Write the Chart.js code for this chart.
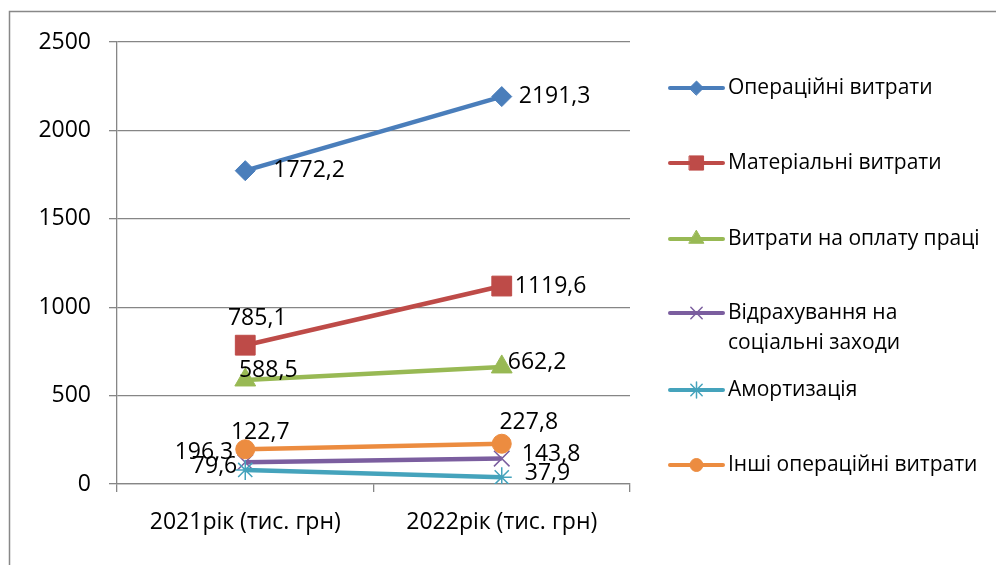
<!DOCTYPE html>
<html>
<head>
<meta charset="utf-8">
<script src="https://cdn.jsdelivr.net/npm/chart.js@4.4.1/dist/chart.umd.min.js"></script>
<style>
  html, body { margin: 0; padding: 0; background: #fff; }
  #wrap { width: 996px; height: 565px; }
</style>
</head>
<body>
<div id="wrap"><canvas id="c" width="996" height="565"></canvas></div>
<script>
// Categories, series and axis ticks
const categories = ['2021рік (тис. грн)', '2022рік (тис. грн)'];
const seriesNames = [
  'Операційні витрати',
  'Матеріальні витрати',
  'Витрати на оплату праці',
  'Відрахування на соціальні заходи',
  'Амортизація',
  'Інші операційні витрати'
];
const operatingCosts = [1772.2, 2191.3];
const materialCosts = [785.1, 1119.6];
const laborCosts = [588.5, 662.2];
const socialContributions = [122.7, 143.8];
const depreciation = [79.6, 37.9];
const otherCosts = [196.3, 227.8];
const yTicks = [0, 500, 1000, 1500, 2000, 2500];

const seriesValues = [operatingCosts, materialCosts, laborCosts, socialContributions, depreciation, otherCosts];

const FONT = '"Open Sans", "Noto Sans", "DejaVu Sans", sans-serif';
const AXIS_GRAY = '#868686';

// Line and marker appearance per series
const seriesStyles = [
  { color: '#4A7EBB', point: 'rectRot',  r: 10,  pbw: 1,   legendR: 7 },
  { color: '#BE4B48', point: 'rect',     r: 14,  pbw: 1,   legendR: 10 },
  { color: '#98B954', point: 'triangle', r: 12,  pbw: 1,   legendR: 8.5 },
  { color: '#7B5E9F', point: 'crossRot', r: 11,  pbw: 1.5, legendR: 8 },
  { color: '#45A3BC', point: 'star',     r: 10,  pbw: 1.5, legendR: 8 },
  { color: '#EC8C40', point: 'circle',   r: 9.5, pbw: 1,   legendR: 6.5 }
];

// Where each value label sits relative to its point
const labelPlacement = [
  [{ dx: 28, dy: 0, align: 'left' },    { dx: 17, dy: 0, align: 'left' }],
  [{ dx: 12, dy: -27, align: 'center' }, { dx: 13, dy: 0, align: 'left' }],
  [{ dx: 23, dy: -10, align: 'center' }, { dx: 6, dy: -4, align: 'left' }],
  [{ dx: 15, dy: -30, align: 'center' }, { dx: 20, dy: -4, align: 'left' }],
  [{ dx: -8, dy: -3, align: 'right' },  { dx: 23, dy: -4, align: 'left' }],
  [{ dx: -12, dy: 3, align: 'right' },  { dx: 27, dy: -21, align: 'center' }]
];

// Legend layout on the right
const legendLayout = {
  lineX0: 670, lineX1: 723, textX: 728, lineHeight: 30,
  rows: [88, 163, 239, 313, 390, 465],
  wrap: { 3: ['Відрахування на', 'соціальні заходи'] }
};

function fmt(v) { return v.toFixed(1).replace('.', ','); }

function drawMarker(ctx, style, radius, x, y) {
  ctx.save();
  ctx.fillStyle = style.color;
  ctx.strokeStyle = style.color;
  ctx.lineWidth = style.pbw;
  Chart.helpers.drawPoint(ctx, { pointStyle: style.point, radius: radius, borderWidth: style.pbw, rotation: 0 }, x, y);
  ctx.restore();
}

const decorations = {
  id: 'decorations',
  beforeDraw(chart) {
    const ctx = chart.ctx;
    ctx.save();
    ctx.fillStyle = '#fff';
    ctx.fillRect(0, 0, chart.width, chart.height);
    ctx.strokeStyle = '#888';
    ctx.lineWidth = 1.5;
    ctx.strokeRect(9.5, 11.5, chart.width + 20, chart.height + 20);
    ctx.restore();
  },
  afterDatasetsDraw(chart) {
    const ctx = chart.ctx;
    ctx.save();
    ctx.font = '23px ' + FONT;
    ctx.fillStyle = '#000';
    ctx.textBaseline = 'middle';
    chart.data.datasets.forEach((ds, i) => {
      const meta = chart.getDatasetMeta(i);
      meta.data.forEach((pt, j) => {
        const p = labelPlacement[i][j];
        ctx.textAlign = p.align;
        ctx.fillText(fmt(ds.data[j]), pt.x + p.dx, pt.y + p.dy);
      });
    });
    ctx.restore();
  },
  afterDraw(chart) {
    const ctx = chart.ctx;
    ctx.save();
    ctx.font = '21px ' + FONT;
    ctx.fillStyle = '#000';
    ctx.textBaseline = 'middle';
    ctx.textAlign = 'left';
    seriesNames.forEach((name, i) => {
      const st = seriesStyles[i];
      const y = legendLayout.rows[i];
      ctx.strokeStyle = st.color;
      ctx.lineWidth = 4;
      ctx.lineCap = 'round';
      ctx.beginPath();
      ctx.moveTo(legendLayout.lineX0, y);
      ctx.lineTo(legendLayout.lineX1, y);
      ctx.stroke();
      drawMarker(ctx, st, st.legendR, (legendLayout.lineX0 + legendLayout.lineX1) / 2, y);
      const lines = legendLayout.wrap[i] || [name];
      ctx.fillStyle = '#000';
      lines.forEach((ln, k) => ctx.fillText(ln, legendLayout.textX, y + k * legendLayout.lineHeight));
    });
    ctx.restore();
  }
};

new Chart(document.getElementById('c'), {
  type: 'line',
  data: {
    labels: categories,
    datasets: seriesValues.map((vals, i) => ({
      label: seriesNames[i],
      data: vals,
      borderColor: seriesStyles[i].color,
      backgroundColor: seriesStyles[i].color,
      borderWidth: 4.5,
      pointStyle: seriesStyles[i].point,
      pointRadius: seriesStyles[i].r,
      pointBorderWidth: seriesStyles[i].pbw,
      pointBackgroundColor: seriesStyles[i].color,
      pointBorderColor: seriesStyles[i].color,
      tension: 0,
      fill: false,
      order: seriesValues.length - i
    }))
  },
  options: {
    responsive: false,
    animation: false,
    events: [],
    layout: { padding: { left: 0, top: 42, right: 366, bottom: 0 } },
    plugins: { legend: { display: false }, tooltip: { enabled: false } },
    scales: {
      x: {
        offset: true,
        grid: { offset: true, drawOnChartArea: false, tickLength: 8, color: AXIS_GRAY, lineWidth: 1.3 },
        border: { color: AXIS_GRAY, width: 1.3 },
        ticks: { font: { family: FONT, size: 23 }, color: '#000', padding: 17, maxRotation: 0 },
        afterFit(s) { s.height = 81; }
      },
      y: {
        min: yTicks[0],
        max: yTicks[yTicks.length - 1],
        afterBuildTicks(s) { s.ticks = yTicks.map(v => ({ value: v })); },
        grid: { color: AXIS_GRAY, tickLength: 8, lineWidth: 1.3 },
        border: { color: AXIS_GRAY, width: 1.3 },
        ticks: { font: { family: FONT, size: 23 }, color: '#000', padding: 18, callback: v => String(v) },
        afterFit(s) { s.width = 117; }
      }
    }
  },
  plugins: [decorations]
});
</script>
</body>
</html>
